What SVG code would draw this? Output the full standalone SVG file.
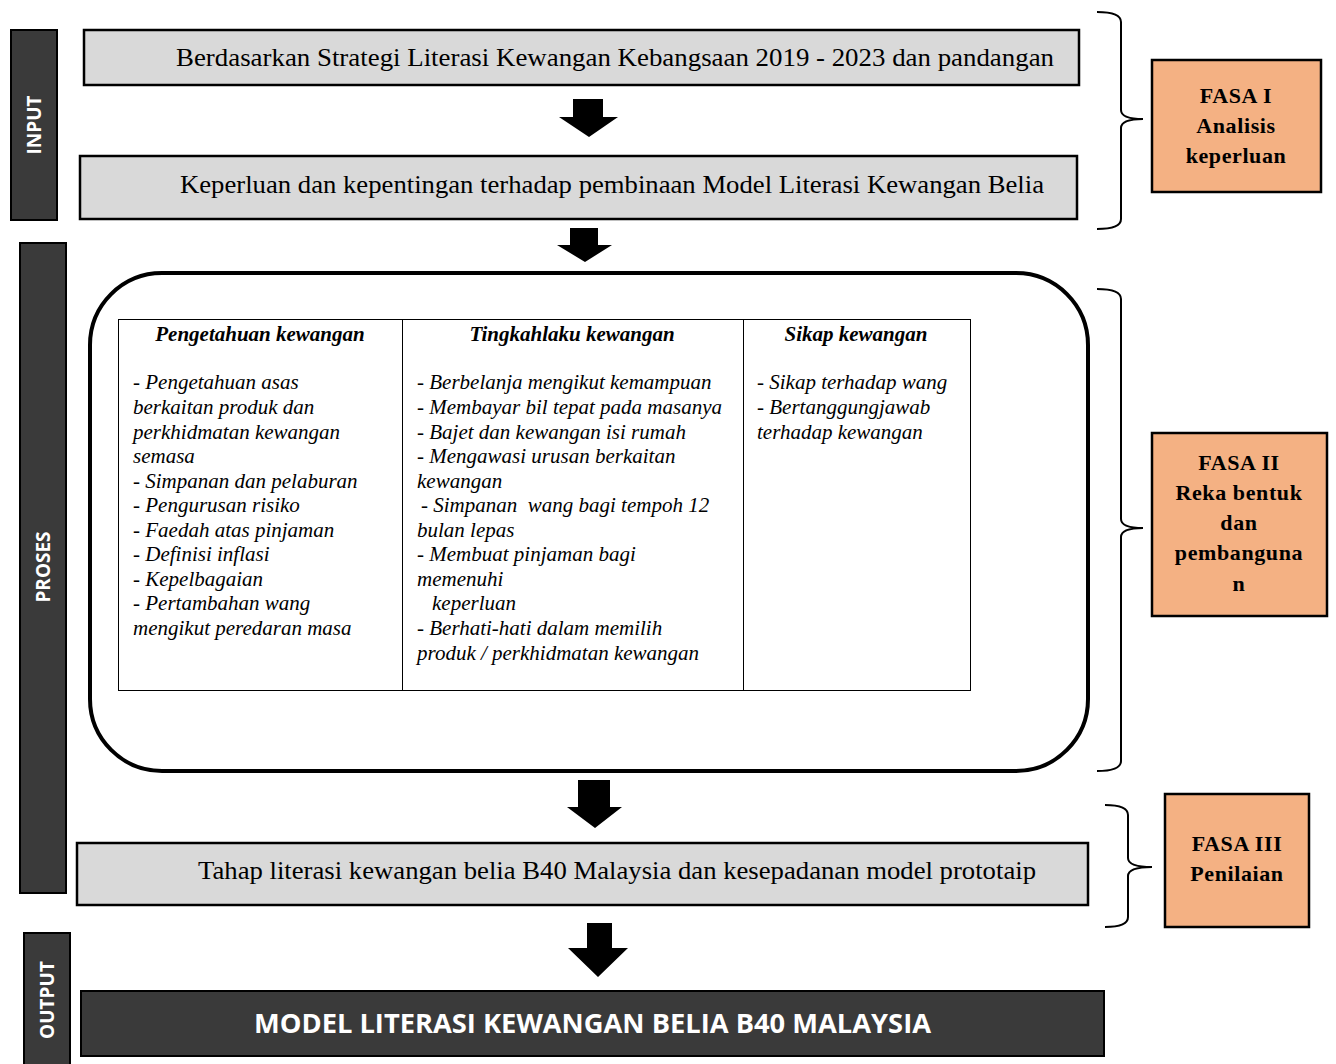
<svg xmlns="http://www.w3.org/2000/svg" width="1336" height="1064" viewBox="0 0 1336 1064">
<style>
.side{fill:#3a3a3a;stroke:#000;stroke-width:2}
.side-t{font-family:"Open Sans","Liberation Sans",sans-serif;font-weight:bold;font-size:19px;fill:#fff;text-anchor:middle}
.gbox{fill:#d9d9d9;stroke:#000;stroke-width:2.5}
.gt{font-family:"Liberation Serif",serif;font-size:26px;fill:#000}
.fasa{fill:#f4b183;stroke:#000;stroke-width:2.5}
.ft{font-family:"Liberation Serif",serif;font-weight:bold;font-size:22px;letter-spacing:0.6px;fill:#000;text-anchor:middle}
.brace{fill:none;stroke:#000;stroke-width:2}
.arrow{fill:#000}
.th{font-family:"Liberation Serif",serif;font-weight:bold;font-style:italic;font-size:21px;text-anchor:middle}
.td{font-family:"Liberation Serif",serif;font-style:italic;font-size:21px}
</style>
<rect width="1336" height="1064" fill="#fff"/>

<g id="input-label"><rect class="side" x="11" y="30" width="46" height="190"/><text class="side-t" transform="translate(41,125) rotate(-90)">INPUT</text></g>
<g id="proses-label"><rect class="side" x="20" y="243" width="46" height="650"/><text class="side-t" transform="translate(50,567) rotate(-90)">PROSES</text></g>
<g id="output-label"><rect class="side" x="24" y="933" width="46" height="140"/><text class="side-t" transform="translate(54,1000) rotate(-90)">OUTPUT</text></g>

<g id="box1"><rect class="gbox" x="84" y="30" width="995" height="55"/><text class="gt" x="176" y="66" textLength="878" lengthAdjust="spacingAndGlyphs">Berdasarkan Strategi Literasi  Kewangan Kebangsaan 2019 - 2023 dan pandangan</text></g>
<g id="box2"><rect class="gbox" x="80" y="156" width="997" height="63"/><text class="gt" x="180" y="193" textLength="864" lengthAdjust="spacingAndGlyphs">Keperluan dan kepentingan terhadap pembinaan Model Literasi Kewangan Belia</text></g>

<g id="proses-box">
<rect x="90" y="273" width="998" height="498" rx="72" ry="72" fill="none" stroke="#000" stroke-width="4"/>
<rect x="118.5" y="319.5" width="852" height="371" fill="none" stroke="#000" stroke-width="1"/>
<line x1="402.5" y1="319.5" x2="402.5" y2="690.5" stroke="#000" stroke-width="1"/>
<line x1="743.5" y1="319.5" x2="743.5" y2="690.5" stroke="#000" stroke-width="1"/>
<text class="th" x="260" y="341">Pengetahuan kewangan</text>
<text class="th" x="572" y="341">Tingkahlaku kewangan</text>
<text class="th" x="856" y="341">Sikap kewangan</text>
<text class="td" x="133" y="389">- Pengetahuan asas</text>
<text class="td" x="133" y="414">berkaitan produk dan</text>
<text class="td" x="133" y="439">perkhidmatan kewangan</text>
<text class="td" x="133" y="463">semasa</text>
<text class="td" x="133" y="488">- Simpanan dan pelaburan</text>
<text class="td" x="133" y="512">- Pengurusan risiko</text>
<text class="td" x="133" y="537">- Faedah atas pinjaman</text>
<text class="td" x="133" y="561">- Definisi inflasi</text>
<text class="td" x="133" y="586">- Kepelbagaian</text>
<text class="td" x="133" y="610">- Pertambahan wang</text>
<text class="td" x="133" y="635">mengikut peredaran masa</text>
<text class="td" x="417" y="389">- Berbelanja mengikut kemampuan</text>
<text class="td" x="417" y="414">- Membayar bil tepat pada masanya</text>
<text class="td" x="417" y="439">- Bajet dan kewangan isi rumah</text>
<text class="td" x="417" y="463">- Mengawasi urusan berkaitan</text>
<text class="td" x="417" y="488">kewangan</text>
<text class="td" x="421" y="512" xml:space="preserve">- Simpanan  wang bagi tempoh 12</text>
<text class="td" x="417" y="537">bulan lepas</text>
<text class="td" x="417" y="561">- Membuat pinjaman bagi</text>
<text class="td" x="417" y="586">memenuhi</text>
<text class="td" x="432" y="610">keperluan</text>
<text class="td" x="417" y="635">- Berhati-hati dalam memilih</text>
<text class="td" x="417" y="660">produk / perkhidmatan kewangan</text>
<text class="td" x="757" y="389">- Sikap terhadap wang</text>
<text class="td" x="757" y="414">- Bertanggungjawab</text>
<text class="td" x="757" y="439">terhadap kewangan</text>
</g>

<g id="box3"><rect class="gbox" x="77" y="843" width="1011" height="62"/><text class="gt" x="198" y="879" textLength="838" lengthAdjust="spacingAndGlyphs">Tahap literasi kewangan belia B40 Malaysia dan kesepadanan model prototaip</text></g>

<g id="output-box"><rect x="81" y="991" width="1023" height="65" fill="#3a3a3a" stroke="#000" stroke-width="2"/><text x="254" y="1033" font-family="Open Sans, Liberation Sans, sans-serif" font-weight="bold" font-size="26" fill="#fff" textLength="677" lengthAdjust="spacingAndGlyphs">MODEL LITERASI KEWANGAN BELIA B40 MALAYSIA</text></g>

<g id="fasa1"><rect class="fasa" x="1152" y="60" width="169" height="132"/><text class="ft" x="1236" y="103">FASA I</text><text class="ft" x="1236" y="133">Analisis</text><text class="ft" x="1236" y="163">keperluan</text></g>
<g id="fasa2"><rect class="fasa" x="1152" y="433" width="175" height="183"/><text class="ft" x="1239" y="470">FASA II</text><text class="ft" x="1239" y="500">Reka bentuk</text><text class="ft" x="1239" y="530">dan</text><text class="ft" x="1239" y="560">pembanguna</text><text class="ft" x="1239" y="591">n</text></g>
<g id="fasa3"><rect class="fasa" x="1165" y="794" width="144" height="133"/><text class="ft" x="1237" y="851">FASA III</text><text class="ft" x="1237" y="881">Penilaian</text></g>

<g id="connectors">
<polygon class="arrow" points="573,99 603,99 603,117 618,117 589,137 559,117 573,117"/>
<polygon class="arrow" points="570,228 598,228 598,245 612,245 585,262 557,245 570,245"/>
<polygon class="arrow" points="578,780 610,780 610,807 622,807 595,828 567,807 578,807"/>
<polygon class="arrow" points="587,923 612,923 612,948 628,948 598,977 568,948 587,948"/>
<path class="brace" d="M1097,12 Q1121,12 1121,22 L1121,110 Q1121,119 1143,119 Q1121,119 1121,128 L1121,219 Q1121,229 1097,229"/>
<path class="brace" d="M1097,289 Q1121,289 1121,299 L1121,519 Q1121,528 1143,528 Q1121,528 1121,537 L1121,761 Q1121,771 1097,771"/>
<path class="brace" d="M1105,805 Q1128,805 1128,815 L1128,858 Q1128,867 1152,867 Q1128,867 1128,876 L1128,917 Q1128,927 1105,927"/>
</g>
</svg>
